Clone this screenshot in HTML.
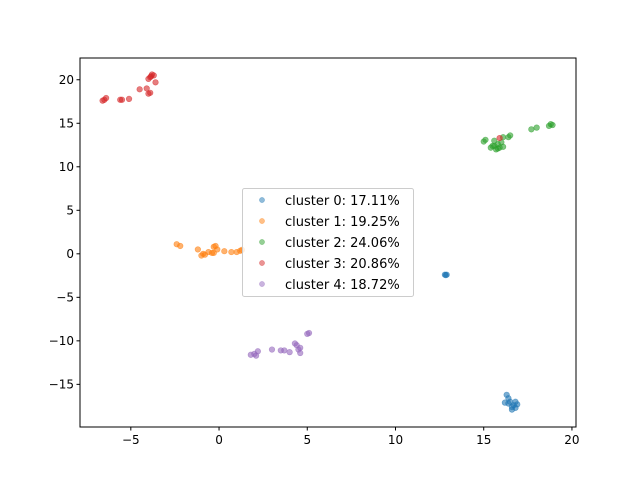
<!DOCTYPE html>
<html><head><meta charset="utf-8"><style>
body{margin:0;background:#fff}
svg text{font-family:"DejaVu Sans","Liberation Sans",sans-serif;font-size:13px;fill:#000}
</style></head><body>
<svg id="chart" width="640" height="480" xmlns="http://www.w3.org/2000/svg">
<rect width="640" height="480" fill="#fff"/>
<g id="marks"></g>
<rect x="80" y="58" width="496" height="369" fill="none" stroke="#000" stroke-width="1"/>
<g id="axes"></g>
<g id="legend"></g>
</svg>
<script>
const clusterNames=["cluster 0: 17.11%","cluster 1: 19.25%","cluster 2: 24.06%","cluster 3: 20.86%","cluster 4: 18.72%"];
const colors=["#1f77b4","#ff7f0e","#2ca02c","#d62728","#9467bd"];
const xTicks=[-5,0,5,10,15,20];
const yTicks=[-15,-10,-5,0,5,10,15,20];
const cluster0=[[16.3,-16.2],[16.4,-16.6],[16.5,-17.0],[16.7,-17.4],[16.8,-17.7],[16.9,-17.3],[16.8,-17.0],[16.6,-17.9],[12.8,-2.4],[12.9,-2.4],[16.2,-17.1],[16.4,-17.2],[16.6,-17.6],[12.85,-2.45]];
const cluster1=[[-2.4,1.1],[-2.2,0.9],[-1.2,0.5],[-1.0,-0.2],[-0.9,0.0],[-0.6,0.2],[-0.3,0.1],[-0.2,0.9],[-0.1,0.5],[0.3,0.3],[0.7,0.2],[1.0,0.2],[1.2,0.35],[1.3,0.45],[-0.8,-0.1],[-0.3,0.8],[-0.4,0.1]];
const cluster2=[[15.0,12.9],[15.1,13.1],[15.5,12.4],[15.6,13.0],[15.8,12.1],[15.7,12.0],[16.0,12.8],[16.1,13.4],[16.4,13.4],[17.7,14.3],[18.0,14.5],[18.7,14.7],[18.9,14.8],[15.8,12.6],[15.4,12.2],[16.1,12.3],[16.5,13.6],[18.8,14.9],[15.6,12.4],[15.9,12.2]];
const cluster3=[[-6.5,17.7],[-6.4,17.9],[-5.6,17.7],[-5.5,17.7],[-5.1,17.8],[-4.5,18.9],[-4.1,19.0],[-4.0,18.4],[-3.9,20.3],[-3.8,20.6],[-3.7,20.5],[-3.6,19.7],[-3.9,18.5],[-4.0,20.1],[-6.6,17.6],[15.9,13.3],[-3.85,20.4]];
const cluster4=[[1.8,-11.6],[2.0,-11.5],[2.2,-11.2],[3.0,-11.0],[3.5,-11.1],[3.7,-11.1],[4.0,-11.3],[4.4,-10.5],[4.5,-11.0],[4.6,-11.4],[4.3,-10.3],[5.1,-9.1],[5.0,-9.2],[4.6,-10.8],[2.1,-11.7]];
const clusters=[cluster0,cluster1,cluster2,cluster3,cluster4];
const NS="http://www.w3.org/2000/svg";
const X0=80,X1=576,Y0=58,Y1=427,xmin=-7.88,xmax=20.23,ymin=-19.9,ymax=22.5;
const sx=v=>X0+(v-xmin)/(xmax-xmin)*(X1-X0);
const sy=v=>Y1-(v-ymin)/(ymax-ymin)*(Y1-Y0);
function mk(t,a,p){const e=document.createElementNS(NS,t);for(const k in a)e.setAttribute(k,a[k]);(p||document.getElementById('chart')).appendChild(e);return e;}
const marks=document.getElementById('marks');
clusters.forEach((c,i)=>c.forEach(d=>{
 const e=mk('circle',{cx:sx(d[0]),cy:sy(d[1]),r:2.8,fill:colors[i],'fill-opacity':0.6,stroke:colors[i],'stroke-opacity':0.6,'stroke-width':0.6},marks);
 
 
}));
const axes=document.getElementById('axes');
xTicks.forEach(t=>{const x=sx(t);
 const l=mk('line',{x1:x,x2:x,y1:Y1,y2:Y1+3.5,stroke:'#000'},axes);
 
 const tx=mk('text',{x:x,y:Y1+17,'text-anchor':'middle',style:'font-size:12px'},axes);tx.textContent=t<0?'\u2212'+(-t):t;
 });
yTicks.forEach(t=>{const y=sy(t);
 const l=mk('line',{x1:X0-3.5,x2:X0,y1:y,y2:y,stroke:'#000'},axes);
 
 const tx=mk('text',{x:X0-6,y:y+4,'text-anchor':'end',style:'font-size:12px'},axes);tx.textContent=t<0?'\u2212'+(-t):t;
 });
const lg=document.getElementById('legend');
mk('rect',{x:242.5,y:188.5,width:171,height:108,rx:2,fill:'#fff','fill-opacity':0.8,stroke:'#ccc'},lg);
clusterNames.forEach((n,i)=>{const y=200+i*21;
 const c=mk('circle',{cx:262,cy:y,r:2.6,fill:colors[i],'fill-opacity':0.5,stroke:colors[i],'stroke-opacity':0.5,'stroke-width':0.5},lg);
 
 const t=mk('text',{x:285,y:y+5},lg);t.textContent=n;
 });
</script>
</body></html>
